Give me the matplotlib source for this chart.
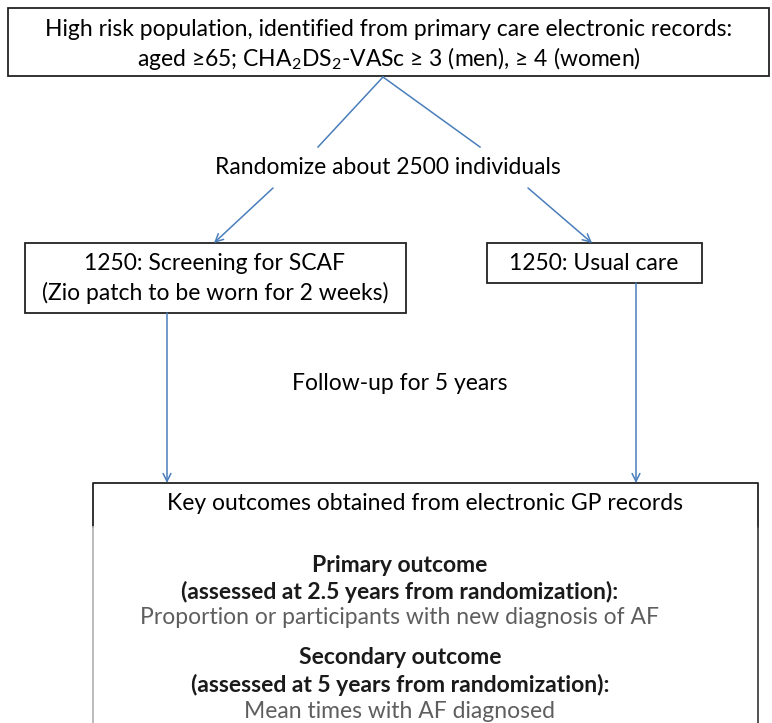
import matplotlib
matplotlib.use("Agg")
import matplotlib.pyplot as plt
from matplotlib.patches import Rectangle

plt.rcParams['font.family'] = ['Lato', 'DejaVu Sans']
plt.rcParams['mathtext.fontset'] = 'custom'
plt.rcParams['mathtext.rm'] = 'Lato'

# texts of the flow chart
top_lines = ["High risk population, identified from primary care electronic records:",
             r"aged ≥65; CHA$_\mathrm{2}$DS$_\mathrm{2}$-VASc ≥ 3 (men), ≥ 4 (women)"]
randomize_text = "Randomize about 2500 individuals"
left_lines = ["1250: Screening for SCAF", "(Zio patch to be worn for 2 weeks)"]
right_text = "1250: Usual care"
followup_text = "Follow-up for 5 years"
key_text = "Key outcomes obtained from electronic GP records"
outcome_lines = ["Primary outcome",
                 "(assessed at 2.5 years from randomization):",
                 "Proportion or participants with new diagnosis of AF",
                 "Secondary outcome",
                 "(assessed at 5 years from randomization):",
                 "Mean times with AF diagnosed"]
outcome_bold = [True, True, False, True, True, False]
outcome_y = [565, 592, 618, 658, 685, 711]

W, H = 772, 723
fig = plt.figure(figsize=(W / 100, H / 100), dpi=100)
ax = fig.add_axes([0, 0, 1, 1])
ax.set_xlim(0, W)
ax.set_ylim(H, 0)
ax.axis('off')

blue = '#4a7ebb'
fs = 16.5


def box(x0, y0, x1, y1, ec='#222222', lw=1.3):
    ax.add_patch(Rectangle((x0, y0), x1 - x0, y1 - y0, fill=False, ec=ec, lw=lw))


def arrow(x0, y0, x1, y1, head=True):
    if head:
        ax.annotate('', xy=(x1, y1), xytext=(x0, y0),
                    arrowprops=dict(arrowstyle='->', color=blue, lw=1.1,
                                    mutation_scale=14, shrinkA=0, shrinkB=0))
    else:
        ax.plot([x0, x1], [y0, y1], color=blue, lw=1.1)


# top box
box(8, 8, 769, 76)
ax.text(389, 30, top_lines[0], ha='center', va='center', fontsize=fs)
ax.text(389, 58, top_lines[1], ha='center', va='center', fontsize=fs)

# split lines
arrow(383, 77, 318, 147, head=False)
arrow(383, 77, 480, 147, head=False)
ax.text(388, 168, randomize_text, ha='center', va='center', fontsize=fs)
arrow(273, 188, 214, 243)
arrow(528, 188, 592, 243)

# arm boxes
box(25, 243, 406, 313)
ax.text(215, 264, left_lines[0], ha='center', va='center', fontsize=fs)
ax.text(215, 293, left_lines[1], ha='center', va='center', fontsize=fs)
box(487, 243, 702, 283)
ax.text(594, 264, right_text, ha='center', va='center', fontsize=fs)

# follow-up arrows
arrow(167, 313, 167, 483)
arrow(636, 283, 636, 483)
ax.text(400, 383, followup_text, ha='center', va='center', fontsize=fs)

# outcome box (open at the bottom)
ax.plot([93, 93, 758, 758], [527, 483, 483, 527], color='#222222', lw=1.3)
ax.plot([93, 93], [527, H], color='#b5b5b5', lw=1.3)
ax.plot([758, 758], [527, H], color='#444444', lw=1.3)
ax.text(425, 504, key_text, ha='center', va='center', fontsize=fs)
for txt, b, y in zip(outcome_lines, outcome_bold, outcome_y):
    ax.text(400, y, txt, ha='center', va='center', fontsize=fs,
            fontweight='bold' if b else 'normal',
            color='#1a1a1a' if b else '#5e5e5e')

fig.savefig('out.png', dpi=100)
